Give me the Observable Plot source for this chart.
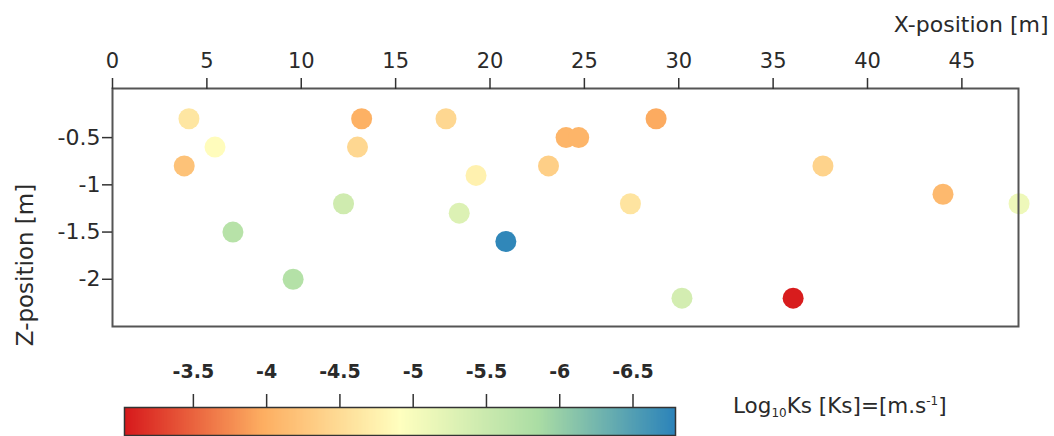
<!DOCTYPE html>
<html>
<head>
<meta charset="utf-8">
<script src="https://cdn.jsdelivr.net/npm/d3@7"></script>
<script src="https://cdn.jsdelivr.net/npm/@observablehq/plot@0.6"></script>
<style>
  html, body { margin: 0; padding: 0; background: #fff; }
  #wrap { position: relative; width: 1054px; height: 436px; overflow: hidden; font-family: "DejaVu Sans", sans-serif; color: #2a2a2a; }
  #main { position: absolute; left: 0; top: 0; }
  #cbar { position: absolute; left: 0; top: 340px; }
  #ylabel { position: absolute; left: 25px; top: 265px; font-size: 23px; line-height: 26px; white-space: nowrap; transform: translate(-50%, -50%) rotate(-90deg); color: #2a2a2a; }
  #cblabel { position: absolute; left: 733px; top: 388px; font-size: 21.5px; line-height: 26px; white-space: nowrap; color: #2a2a2a; }
  #cblabel sub, #cblabel sup { font-size: 12px; }
  #cblabel sub { vertical-align: -4px; }
  #cblabel sup { vertical-align: 8px; }
</style>
</head>
<body>
<div id="wrap">
  <div id="main"></div>
  <div id="cbar"></div>
  <div id="ylabel"></div>
  <div id="cblabel">Log<sub>10</sub>Ks [Ks]=[m.s<sup>-1</sup>]</div>
</div>
<script>
// Sample positions (X-position [m], Z-position [m]) and log10 Ks values
const xPos = [4.05, 5.43, 3.8, 6.38, 9.57, 12.24, 13.2, 12.98, 17.67, 19.26, 18.37, 20.84, 23.1, 24.03, 24.7, 28.8, 27.44, 30.17, 37.64, 44.0, 48.03, 36.06];
const zPos = [-0.3, -0.6, -0.8, -1.5, -2.0, -1.2, -0.3, -0.6, -0.3, -0.9, -1.3, -1.6, -0.8, -0.5, -0.5, -0.3, -1.2, -2.2, -0.8, -1.1, -1.2, -2.2];
const logKs = [-4.62, -4.88, -4.2, -5.72, -5.75, -5.45, -4.0, -4.45, -4.45, -4.75, -5.3, -6.75, -4.35, -4.05, -4.05, -3.95, -4.6, -5.4, -4.4, -4.1, -5.1, -3.05];

const xTicks = [0, 5, 10, 15, 20, 25, 30, 35, 40, 45];
const yTicks = [-0.5, -1, -1.5, -2];
const cbTicks = [-3.5, -4, -4.5, -5, -5.5, -6, -6.5];
const xLabel = "X-position [m]";
const yLabel = "Z-position [m]";

const colorStops = [-3.03, -3.97, -4.91, -5.85, -6.79];
const colorRange = ["#d7191c", "#fdae61", "#ffffbf", "#abdda4", "#2b83ba"];

const data = xPos.map((x, i) => ({x, z: zPos[i], k: logKs[i]}));
const colorScale = {type: "linear", domain: colorStops, range: colorRange, interpolate: "rgb"};
const fmt = d => String(d);

document.getElementById("ylabel").textContent = yLabel;

const main = Plot.plot({
  width: 1054,
  height: 330,
  marginTop: 88,
  marginLeft: 112,
  marginRight: 36,
  marginBottom: 4,
  style: {fontFamily: "DejaVu Sans", fontSize: "21px", color: "#2a2a2a", background: "transparent", overflow: "visible"},
  x: {domain: [0, 48]},
  y: {domain: [-2.5, 0.02]},
  color: colorScale,
  marks: [
    Plot.dot(data, {x: "x", y: "z", fill: "k", r: 10.5}),
    Plot.frame({stroke: "#555", strokeWidth: 2}),
    Plot.axisX(xTicks, {anchor: "top", tickSize: 11, tickPadding: 10, tickFormat: fmt, label: null, fontSize: 21, stroke: "#333", strokeWidth: 1.5}),
    Plot.axisY(yTicks, {anchor: "left", tickSize: 10, tickPadding: 2, tickFormat: fmt, label: null, fontSize: 22, stroke: "#333", strokeWidth: 1.5}),
    Plot.text([xLabel], {frameAnchor: "top-right", text: d => d, textAnchor: "end", dx: 30, dy: -72, fontSize: 22})
  ]
});
document.getElementById("main").appendChild(main);

const cbar = Plot.plot({
  width: 1054,
  height: 96,
  marginTop: 67,
  marginBottom: 1,
  marginLeft: 124,
  marginRight: 379,
  style: {fontFamily: "DejaVu Sans", fontSize: "19px", color: "#2a2a2a", background: "transparent", overflow: "visible"},
  x: {domain: [colorStops[0], colorStops[colorStops.length - 1]]},
  y: {domain: [0, 1], axis: null},
  color: colorScale,
  marks: [
    Plot.raster({x1: colorStops[0], x2: colorStops[colorStops.length - 1], y1: 0, y2: 1, fill: (x, y) => x, width: 400, height: 1, imageRendering: "auto"}),
    Plot.frame({stroke: "#333", strokeWidth: 1.5}),
    Plot.axisX(cbTicks, {anchor: "top", tickSize: 14, tickPadding: 16, tickFormat: fmt, label: null, fontSize: 19, fontWeight: "bold", stroke: "#333", strokeWidth: 1.5})
  ]
});
document.getElementById("cbar").appendChild(cbar);
</script>
</body>
</html>
